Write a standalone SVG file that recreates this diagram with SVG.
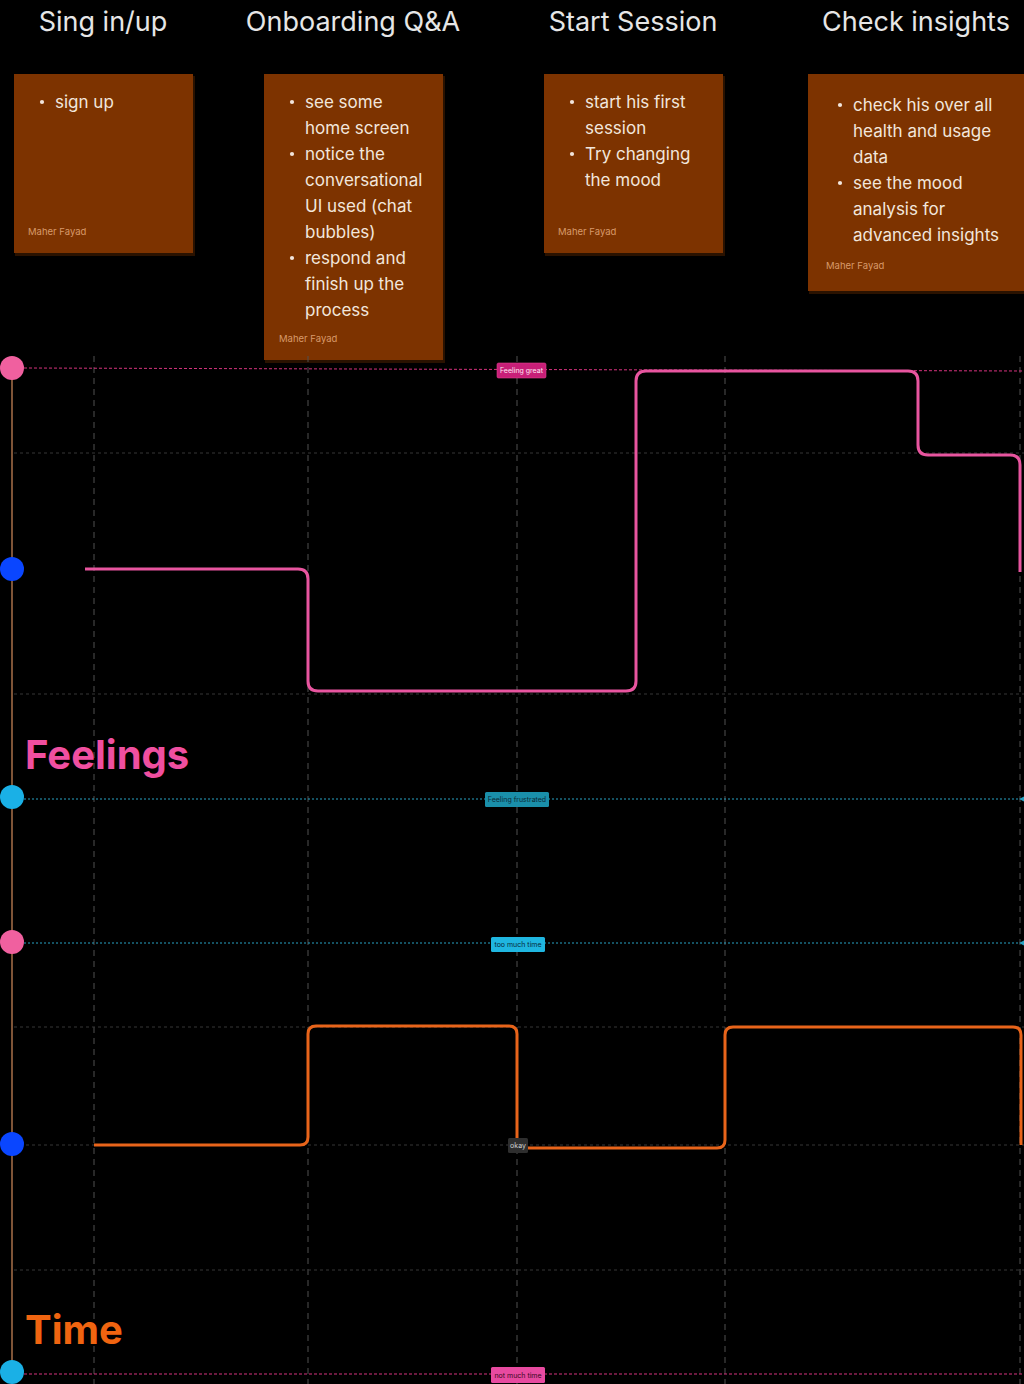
<svg xmlns="http://www.w3.org/2000/svg" width="1024" height="1384" viewBox="0 0 1024 1384">
<defs>
<style>
.hdr{font-family:Inter,"Liberation Sans",sans-serif;font-size:27px;fill:#e6e6e6;text-anchor:middle}
.card{fill:#7d3300}
.shadow{fill:#2a1200}
.ct{font-family:Inter,"Liberation Sans",sans-serif;font-size:17px;fill:#f2e6dc}
.ft{font-family:Inter,"Liberation Sans",sans-serif;font-size:9.5px;fill:#d89a6a}
.vg{stroke:#505050;stroke-width:1;stroke-dasharray:6 5;fill:none}
.hg{stroke:#363636;stroke-width:1;stroke-dasharray:3 3;fill:none}
.lbl{font-family:Inter,"Liberation Sans",sans-serif;font-size:7px;text-anchor:middle}
.big{font-family:Inter,"Liberation Sans",sans-serif;font-size:40px;font-weight:700}
</style>
<marker id="arrC" markerWidth="8" markerHeight="8" refX="1" refY="4" orient="auto" markerUnits="userSpaceOnUse"><path d="M8,0 L0,4 L8,8 Z" fill="#29a3c4"/></marker>
</defs>
<rect x="0" y="0" width="1024" height="1384" fill="#000"/>

<g id="headers">
<text class="hdr" x="103" y="31">Sing in/up</text>
<text class="hdr" x="353" y="31">Onboarding Q&amp;A</text>
<text class="hdr" x="633" y="31">Start Session</text>
<text class="hdr" x="916" y="31">Check insights</text>
</g>

<g id="card1">
<rect class="shadow" x="15" y="76" width="180" height="180"/>
<rect class="card" x="14" y="74" width="179" height="179"/>
<circle cx="42" cy="102" r="2.1" fill="#f2e6dc"/>
<text class="ct" x="55" y="108">sign up</text>
<text class="ft" x="28" y="235">Maher Fayad</text>
</g>

<g id="card2">
<rect class="shadow" x="265" y="76" width="180" height="287"/>
<rect class="card" x="264" y="74" width="179" height="286"/>
<circle cx="292" cy="102" r="2.1" fill="#f2e6dc"/>
<circle cx="292" cy="154" r="2.1" fill="#f2e6dc"/>
<circle cx="292" cy="258" r="2.1" fill="#f2e6dc"/>
<text class="ct" x="305" y="108">see some</text>
<text class="ct" x="305" y="134">home screen</text>
<text class="ct" x="305" y="160">notice the</text>
<text class="ct" x="305" y="186">conversational</text>
<text class="ct" x="305" y="212">UI used (chat</text>
<text class="ct" x="305" y="238">bubbles)</text>
<text class="ct" x="305" y="264">respond and</text>
<text class="ct" x="305" y="290">finish up the</text>
<text class="ct" x="305" y="316">process</text>
<text class="ft" x="279" y="342">Maher Fayad</text>
</g>

<g id="card3">
<rect class="shadow" x="545" y="76" width="180" height="180"/>
<rect class="card" x="544" y="74" width="179" height="179"/>
<circle cx="572" cy="102" r="2.1" fill="#f2e6dc"/>
<circle cx="572" cy="154" r="2.1" fill="#f2e6dc"/>
<text class="ct" x="585" y="108">start his first</text>
<text class="ct" x="585" y="134">session</text>
<text class="ct" x="585" y="160">Try changing</text>
<text class="ct" x="585" y="186">the mood</text>
<text class="ft" x="558" y="235">Maher Fayad</text>
</g>

<g id="card4">
<rect class="shadow" x="809" y="76" width="216" height="218"/>
<rect class="card" x="808" y="74" width="216" height="217"/>
<circle cx="840" cy="105" r="2.1" fill="#f2e6dc"/>
<circle cx="840" cy="183" r="2.1" fill="#f2e6dc"/>
<text class="ct" x="853" y="111">check his over all</text>
<text class="ct" x="853" y="137">health and usage</text>
<text class="ct" x="853" y="163">data</text>
<text class="ct" x="853" y="189">see the mood</text>
<text class="ct" x="853" y="215">analysis for</text>
<text class="ct" x="853" y="241">advanced insights</text>
<text class="ft" x="826" y="269">Maher Fayad</text>
</g>

<g id="grid">
<line class="vg" x1="94" y1="356" x2="94" y2="1384"/>
<line class="vg" x1="308" y1="356" x2="308" y2="1384"/>
<line class="vg" x1="517" y1="356" x2="517" y2="1384"/>
<line class="vg" x1="725" y1="356" x2="725" y2="1384"/>
<line class="vg" x1="1020" y1="356" x2="1020" y2="1384"/>
<line class="hg" x1="14" y1="453" x2="1024" y2="453"/>
<line class="hg" x1="14" y1="694" x2="1024" y2="694"/>
<line class="hg" x1="14" y1="1027" x2="1024" y2="1027"/>
<line class="hg" x1="14" y1="1145" x2="1024" y2="1145"/>
<line class="hg" x1="14" y1="1270" x2="1024" y2="1270"/>
</g>

<g id="axis">
<line x1="12" y1="368" x2="12" y2="1372" stroke="#a8704a" stroke-width="1.5"/>
</g>

<g id="connectors">
<line x1="24" y1="368" x2="1024" y2="371" stroke="#d6337f" stroke-width="1" stroke-dasharray="3 2"/>
<line x1="24" y1="799" x2="1020" y2="799" stroke="#29a3c4" stroke-width="1" stroke-dasharray="2 2" marker-end="url(#arrC)"/>
<line x1="24" y1="943" x2="1020" y2="943" stroke="#29a3c4" stroke-width="1" stroke-dasharray="2 2" marker-end="url(#arrC)"/>
<line x1="24" y1="1374" x2="1024" y2="1374" stroke="#d6337f" stroke-width="1" stroke-dasharray="3 2"/>
<path d="M85,569 H298 Q308,569 308,579 V681 Q308,691 318,691 H626 Q636,691 636,681 V381 Q636,371 646,371 H908 Q918,371 918,381 V445 Q918,455 928,455 H1010 Q1020,455 1020,465 V572" fill="none" stroke="#e8559f" stroke-width="3"/>
<path d="M94,1145 H300 Q308,1145 308,1137 V1034 Q308,1026 316,1026 H509 Q517,1026 517,1034 V1148 H717 Q725,1148 725,1140 V1035 Q725,1027 733,1027 H1013 Q1021,1027 1021,1035 V1145" fill="none" stroke="#e8641a" stroke-width="3"/>
</g>

<g id="dots">
<circle cx="12" cy="368" r="12" fill="#f0609f"/>
<circle cx="12" cy="569" r="12" fill="#0a46ff"/>
<circle cx="12" cy="797" r="12" fill="#1ab0e6"/>
<circle cx="12" cy="942" r="12" fill="#f0609f"/>
<circle cx="12" cy="1144" r="12" fill="#0a46ff"/>
<circle cx="12" cy="1372" r="12" fill="#1ab0e6"/>
</g>

<g id="label-great">
<rect x="497" y="363" width="49" height="15" rx="1.5" fill="#c81f78" stroke="#e0408f" stroke-width="0.6"/>
<text class="lbl" x="521.5" y="373" fill="#ffe8f2">Feeling great</text>
</g>
<g id="label-frustrated">
<rect x="485" y="792" width="64" height="15" rx="1.5" fill="#1a8faa"/>
<text class="lbl" x="517" y="802" fill="#0a2a36">Feeling frustrated</text>
</g>
<g id="label-toomuch">
<rect x="491" y="937" width="54" height="15" rx="1.5" fill="#1fb6e0"/>
<text class="lbl" x="518" y="947" fill="#072a38">too much time</text>
</g>
<g id="label-okay">
<rect x="508" y="1138" width="20" height="15" rx="1.5" fill="#2e2e2e"/>
<text class="lbl" x="518" y="1148" fill="#d0d0d0">okay</text>
</g>
<g id="label-notmuch">
<rect x="491" y="1367" width="54" height="16" rx="1.5" fill="#e84aa0"/>
<text class="lbl" x="518" y="1378" fill="#3a0820">not much time</text>
</g>

<text class="big" x="25" y="769" fill="#f04fa0">Feelings</text>
<text class="big" x="25" y="1344" fill="#f06410">Time</text>
</svg>
